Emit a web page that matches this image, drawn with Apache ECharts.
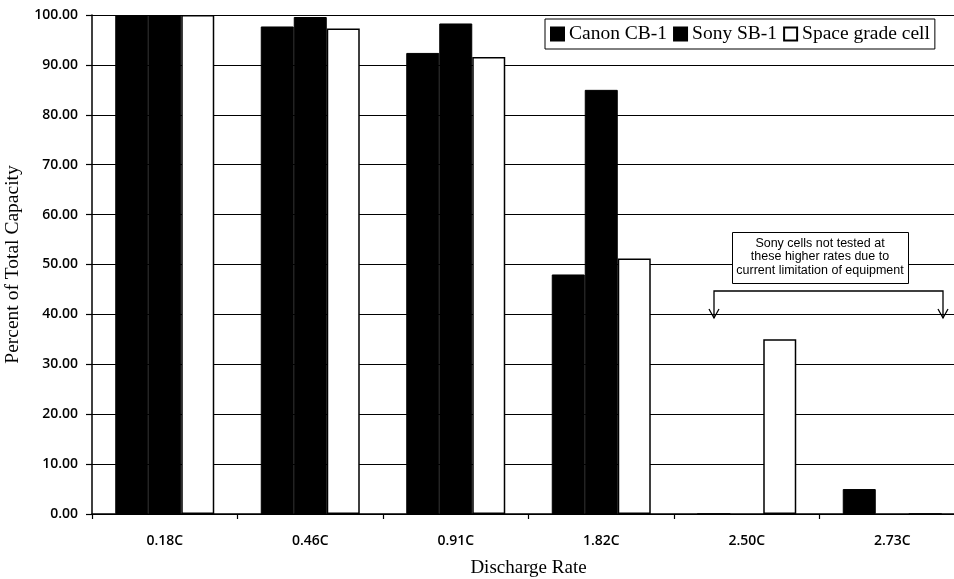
<!DOCTYPE html>
<html>
<head>
<meta charset="utf-8">
<script src="https://cdn.jsdelivr.net/npm/echarts@6/dist/echarts.min.js"></script>
<style>html,body{margin:0;padding:0;background:#fff}#c{width:954px;height:579px}</style>
</head>
<body>
<div id="c"></div>
<script>
var categories = ['0.18C', '0.46C', '0.91C', '1.82C', '2.50C', '2.73C'];
var canon = [100, 97.7, 92.4, 48.0, 0, 5.0];
var sony = [100, 99.6, 98.3, 85.0, null, null];
var space = [100, 97.3, 91.6, 51.2, 35.0, 0];
var yTicks = [0, 10, 20, 30, 40, 50, 60, 70, 80, 90, 100];
var noteLines = ['Sony cells not tested at', 'these higher rates due to', 'current limitation of equipment'];

var chart = echarts.init(document.getElementById('c'), null, {renderer: 'canvas'});
var serif = '"Liberation Serif", "Times New Roman", serif';
var sans = '"Open Sans", "DejaVu Sans", sans-serif';
var option = {
  animation: false,
  backgroundColor: '#fff',
  grid: {left: 92, top: 15, bottom: 65, width: 873, containLabel: false, outerBoundsMode: 'none'},
  legend: {
    left: 545, top: 19,
    itemWidth: 13, itemHeight: 13, itemGap: 6,
    padding: [5, 5, 5, 5],
    borderColor: '#000', borderWidth: 1, backgroundColor: '#fff',
    icon: 'rect',
    textStyle: {fontFamily: serif, fontSize: 19.5, color: '#000'},
    data: ['Canon CB-1', 'Sony SB-1', 'Space grade cell']
  },
  xAxis: {
    type: 'category',
    data: categories,
    name: 'Discharge Rate',
    nameLocation: 'middle',
    nameGap: 45,
    nameTextStyle: {fontFamily: serif, fontSize: 19, color: '#000'},
    axisLine: {lineStyle: {color: '#000', width: 1.5}},
    axisTick: {show: true, length: 5, lineStyle: {color: '#000', width: 1.2}},
    axisLabel: {fontFamily: sans, fontSize: 14, fontWeight: 600, color: '#000', margin: 20}
  },
  yAxis: {
    type: 'value',
    min: yTicks[0], max: yTicks[yTicks.length - 1], interval: 10,
    name: 'Percent of Total Capacity',
    nameLocation: 'middle',
    nameGap: 64,
    nameTextStyle: {fontFamily: serif, fontSize: 19.5, color: '#000'},
    axisLine: {show: true, lineStyle: {color: '#000', width: 1.5}},
    axisTick: {show: true, length: 6, lineStyle: {color: '#000', width: 1.2}},
    axisLabel: {fontFamily: sans, fontSize: 14, fontWeight: 600, color: '#000', margin: 14,
      formatter: function (v) { return v.toFixed(2); }},
    splitLine: {show: true, lineStyle: {color: '#000', width: 1.2}}
  },
  series: [
    {name: 'Canon CB-1', type: 'bar', data: canon, barWidth: 33, barGap: '0%',
      itemStyle: {color: '#000', borderColor: '#000', borderWidth: 1}},
    {name: 'Sony SB-1', type: 'bar', data: sony, barWidth: 33, barGap: '0%',
      itemStyle: {color: '#000', borderColor: '#000', borderWidth: 1}},
    {name: 'Space grade cell', type: 'bar', data: space, barWidth: 33, barGap: '0%',
      itemStyle: {color: '#fff', borderColor: '#000', borderWidth: 1.5}}
  ],
  graphic: [
    {type: 'rect', left: 732, top: 232, z: 100,
      shape: {width: 176, height: 51},
      style: {fill: '#fff', stroke: '#000', lineWidth: 1}},
    {type: 'text', x: 820, y: 257, z: 101,
      style: {text: noteLines.join('\n'), fontFamily: '"Liberation Sans", Arial, sans-serif',
        fontSize: 12.5, lineHeight: 13.5, fill: '#000', align: 'center', verticalAlign: 'middle'}},
    {type: 'polyline', z: 100,
      shape: {points: [[714, 318], [714, 291], [943, 291], [943, 318]]},
      style: {stroke: '#000', lineWidth: 1.3, fill: null}},
    {type: 'polyline', z: 100,
      shape: {points: [[709, 309], [714, 318], [719, 309]]},
      style: {stroke: '#000', lineWidth: 1.3, fill: null}},
    {type: 'polyline', z: 100,
      shape: {points: [[938, 309], [943, 318], [948, 309]]},
      style: {stroke: '#000', lineWidth: 1.3, fill: null}}
  ]
};
chart.setOption(option);
</script>
</body>
</html>
